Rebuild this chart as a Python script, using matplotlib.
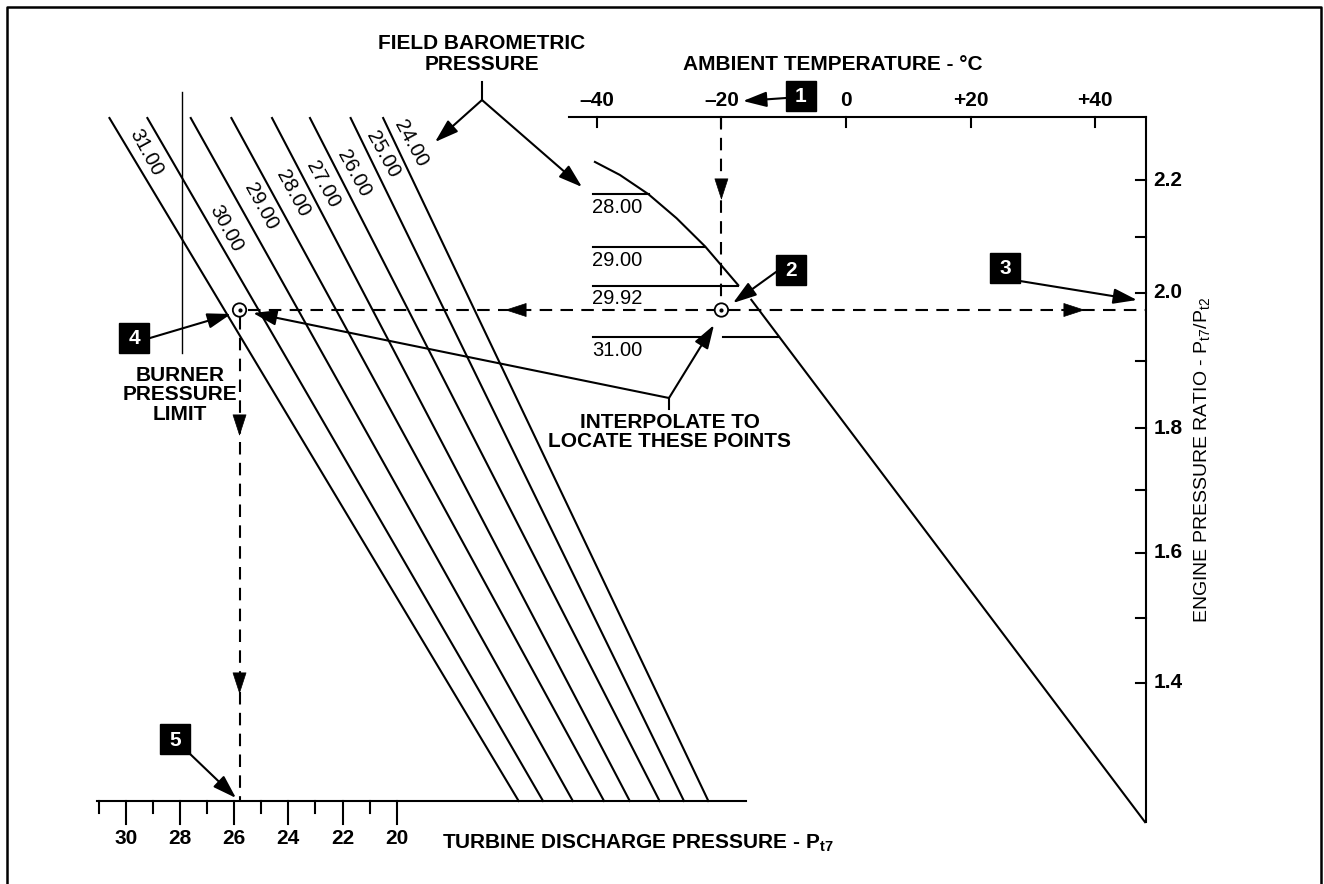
import numpy as np
import matplotlib
matplotlib.use('Agg')
import matplotlib.pyplot as plt
from matplotlib.patches import Circle, FancyArrowPatch, Rectangle

# ---------------- data ----------------
temp_ticks = [-40, -20, 0, 20, 40]
temp_labels = ['–40', '–20', '0', '+20', '+40']
epr_major = [2.2, 2.0, 1.8, 1.6, 1.4]
epr_minor = [2.1, 1.9, 1.7, 1.5]
epr_labels = ['2.2', '2.0', '1.8', '1.6', '1.4']
pt7_major = [30, 28, 26, 24, 22, 20]
pt7_minor = [31, 29, 27, 25, 23, 21]

baro_labels = ['31.00', '30.00', '29.00', '28.00', '27.00', '26.00', '25.00', '24.00']
baro_pt7_top = [30.6, 29.2, 27.6, 26.1, 24.6, 23.2, 21.7, 20.5]
baro_pt7_bottom = [15.5, 14.6, 13.5, 12.35, 11.4, 10.3, 9.4, 8.5]

curve_temp = [-40.3, -36.3, -31.7, -27.2, -22.6, -17.3]
curve_epr = [2.232, 2.209, 2.175, 2.133, 2.083, 2.014]
line_temp = [-15.2, 48.0]
line_epr = [1.990, 1.186]

ref_labels = ['28.00', '29.00', '29.92', '31.00']
ref_epr = [2.175, 2.082, 2.013, 1.935]
ref_temp_end = [-31.7, -22.6, -17.3, -10.8]

ambient_temp = -20
epr_point = 1.975
pt7_point = 25.8
burner_limit_pt7 = 27.93

# ---------------- scales (nomogram geometry) ----------------
T0_X, T_PX = 846.0, 6.23          # temperature scale: x of 0 degC, px per degC
# EPR scale as drawn on the original (slightly non-uniform spacing)
EPR_CAL = [1.0, 1.4, 1.5, 1.6, 1.7, 1.8, 1.9, 2.0, 2.1, 2.2, 2.4]
EPR_CAL_Y = [943, 683, 618, 553, 490, 428, 361, 293, 237, 180, 67]
P0_X, P_PX = 125.7, 27.1          # Pt7 scale: x of 30, px per unit
T_AXIS_Y = 117.0
P_AXIS_Y = 801.0
E_TOP, E_BOT = 2.3115, 1.186
T_MIN, T_MAX = -44.5, 48.2
P_MIN, P_MAX = 31.05, 7.1
BARO_E_TOP = 2.3097
E_BASE = 1.2185

def tx(t):
    return T0_X + T_PX * np.asarray(t, dtype=float)

def ey(e):
    return np.interp(e, EPR_CAL, EPR_CAL_Y)

def px(p):
    return P0_X + (30.0 - np.asarray(p, dtype=float)) * P_PX

FONT = ['Liberation Sans', 'DejaVu Sans']
NARROW = ['Liberation Sans Narrow', 'Liberation Sans', 'DejaVu Sans']
LW = 1.5
FS = 15

fig = plt.figure(figsize=(13.24, 8.84), dpi=100)
ax = fig.add_axes([0, 0, 1, 1])
ax.set_xlim(0, 1324)
ax.set_ylim(884, 0)
ax.axis('off')

# frame
ax.plot([7, 7, 1321, 1321], [890, 7, 7, 890], color='black', lw=1.8)

HEAD = '-|>,head_length=0.8,head_width=0.26'

def arrow(p0, p1, ms=18, lw=1.5):
    a = FancyArrowPatch(p0, p1, arrowstyle=HEAD, mutation_scale=ms, lw=lw,
                        color='black', shrinkA=0, shrinkB=0)
    ax.add_patch(a)

def midhead(x, y, dx, dy, ms=18):
    a = FancyArrowPatch((x - dx, y - dy), (x, y), arrowstyle=HEAD, mutation_scale=ms,
                        lw=0.5, color='black', shrinkA=0, shrinkB=0)
    ax.add_patch(a)

def box(cx, cy, num, s=30):
    ax.add_patch(Rectangle((cx - s / 2, cy - s / 2), s, s, color='black'))
    ax.text(cx, cy + 1, num, color='white', fontsize=FS, fontweight='bold',
            ha='center', va='center', family=FONT)

# ---- temperature axis (top) ----
ax.plot([tx(T_MIN), tx(T_MAX)], [T_AXIS_Y, T_AXIS_Y], color='black', lw=LW)
for t, lab in zip(temp_ticks, temp_labels):
    ax.plot([tx(t), tx(t)], [T_AXIS_Y, T_AXIS_Y + 10], color='black', lw=LW)
    ax.text(tx(t), T_AXIS_Y - 17, lab, ha='center', va='center', fontsize=FS,
            fontweight='bold', family=FONT)
ax.text(833, 65, 'AMBIENT TEMPERATURE - °C', ha='center', va='center', fontsize=FS,
        fontweight='bold', family=FONT)

# ---- EPR axis (right) ----
xr = tx(T_MAX)
ax.plot([xr, xr], [ey(E_TOP), ey(E_BOT)], color='black', lw=LW)
for e, lab in zip(epr_major, epr_labels):
    ax.plot([xr - 10, xr], [ey(e), ey(e)], color='black', lw=LW)
    ax.text(xr + 7, ey(e), lab, ha='left', va='center', fontsize=FS,
            fontweight='bold', family=FONT)
for e in epr_minor:
    ax.plot([xr - 10, xr], [ey(e), ey(e)], color='black', lw=LW)
ax.text(1203, 460, r'ENGINE PRESSURE RATIO - P$_{\mathregular{t7}}$/P$_{\mathregular{t2}}$',
        rotation=90, ha='center', va='center', fontsize=14, family=NARROW)

# ---- Pt7 axis (bottom) ----
ax.plot([px(P_MIN), px(P_MAX)], [P_AXIS_Y, P_AXIS_Y], color='black', lw=LW)
for p in pt7_major:
    ax.plot([px(p), px(p)], [P_AXIS_Y, P_AXIS_Y + 23], color='black', lw=LW)
    ax.text(px(p), P_AXIS_Y + 37, str(p), ha='center', va='center', fontsize=FS,
            fontweight='bold', family=FONT)
for p in pt7_minor:
    ax.plot([px(p), px(p)], [P_AXIS_Y, P_AXIS_Y + 12], color='black', lw=LW)
ax.text(442, 843, r'TURBINE DISCHARGE PRESSURE - P$_{\mathregular{t7}}$', ha='left',
        va='center', fontsize=FS, fontweight='bold', family=FONT)

# ---- barometric pressure lines ----
for lab, pt, pb in zip(baro_labels, baro_pt7_top, baro_pt7_bottom):
    ax.plot([px(pt), px(pb)], [ey(BARO_E_TOP), ey(E_BASE)], color='black', lw=LW)

ang = -np.degrees(np.arctan2(ey(E_BASE) - ey(BARO_E_TOP),
                             px(baro_pt7_bottom[3]) - px(baro_pt7_top[3])))
label_pos = [(146, 152), (226, 228), (261, 206), (293, 193), (323, 184),
             (354, 173), (383, 154), (411, 143)]
for lab, (lx, ly) in zip(baro_labels, label_pos):
    ax.text(lx, ly, lab, rotation=ang, rotation_mode='anchor', ha='center', va='center',
            fontsize=14.5, family=FONT)

# burner pressure limit
ax.plot([px(burner_limit_pt7)] * 2, [92, 353], color='black', lw=1.0)
ax.text(180, 395, 'BURNER\nPRESSURE\nLIMIT', ha='center', va='center', fontsize=FS,
        fontweight='bold', family=FONT, linespacing=1.05)

# ---- temperature/EPR curve ----
ax.plot(tx(curve_temp), ey(curve_epr), color='black', lw=LW)
ax.plot(tx(line_temp), ey(line_epr), color='black', lw=LW)
for lab, e, te in zip(ref_labels, ref_epr, ref_temp_end):
    x0 = tx(-40.6)
    x1 = tx(te)
    y = ey(e)
    if lab == '31.00':
        xg0, xg1 = tx(ambient_temp) - 14, tx(ambient_temp) + 2
        ax.plot([x0, xg0], [y, y], color='black', lw=LW)
        ax.plot([xg1, x1], [y, y], color='black', lw=LW)
    else:
        ax.plot([x0, x1], [y, y], color='black', lw=LW)
    ax.text(x0 - 1, y + 13, lab, ha='left', va='center', fontsize=14.5, family=FONT)

# ---- worked example ----
dash = (0, (6, 4))
xa = tx(ambient_temp)
ya = ey(epr_point)
xp = px(pt7_point)
ax.plot([xa, xa], [T_AXIS_Y, ya - 7], color='black', lw=LW, ls=dash)
ax.plot([xp + 8, xa - 7], [ya, ya], color='black', lw=LW, ls=dash)
ax.plot([xa + 7, xr], [ya, ya], color='black', lw=LW, ls=dash)
ax.plot([xp, xp], [ya + 7, P_AXIS_Y], color='black', lw=LW, ls=dash)
midhead(xa, 200, 0, 8)
midhead(505, ya, -8, 0)
midhead(1085, ya, 8, 0)
midhead(xp, 436, 0, 8)
midhead(xp, 694, 0, 8)
for cx in (xa, xp):
    ax.add_patch(Circle((cx, ya), 6.7, fill=False, lw=1.3, color='black'))
    ax.plot([cx], [ya], 'o', ms=2, color='black')

# boxes and arrows
box(801, 96, '1')
arrow((786, 98), (743, 101))
box(791, 270, '2')
arrow((776, 272), (733, 303))
box(1005, 268, '3')
arrow((1020, 281), (1137, 300))
box(134, 338, '4')
arrow((150, 338), (231, 314))
box(175, 739, '5')
arrow((188, 752), (236, 798))

# field barometric pressure callout
ax.text(482, 54, 'FIELD BAROMETRIC\nPRESSURE', ha='center', va='center', fontsize=FS,
        fontweight='bold', family=FONT, linespacing=1.1)
ax.plot([482, 482], [82, 100], color='black', lw=1.5)
arrow((482, 100), (435, 142))
arrow((482, 100), (582, 187))

# interpolate callout
ax.text(670, 432, 'INTERPOLATE TO\nLOCATE THESE POINTS', ha='center', va='center',
        fontsize=FS, fontweight='bold', family=FONT, linespacing=1.0)
ax.plot([669, 669], [398, 409], color='black', lw=1.5)
arrow((669, 398), (714, 325))
arrow((669, 398), (253, 313))

fig.savefig('out.png', dpi=100)
